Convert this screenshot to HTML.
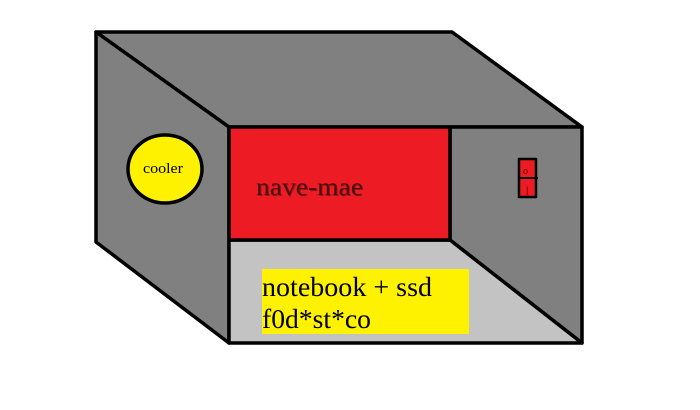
<!DOCTYPE html>
<html><head><meta charset="utf-8"><style>
html,body{margin:0;padding:0;background:#fff;}
svg{display:block;}
.s{font-family:"Liberation Serif","DejaVu Serif",serif;}
</style></head><body>
<svg width="700" height="410" viewBox="0 0 700 410" xmlns="http://www.w3.org/2000/svg">
<g stroke="#000" stroke-width="3.5" stroke-linejoin="round">
<polygon points="96,32 452,32 582,127 229,127" fill="#808080"/>
<polygon points="96,32 229,127 229,343 96,242" fill="#808080"/>
<polygon points="450,127 582,127 582,343 450,240" fill="#808080"/>
<polygon points="229,240 450,240 582,343 229,343" fill="#c3c3c3"/>
<rect x="229" y="127" width="221" height="113" fill="#ed1c24"/>
<ellipse cx="165" cy="169" rx="37" ry="34" fill="#fff200"/>
<rect x="519" y="159" width="17" height="38" fill="#ed1c24" stroke-width="2.5"/>
<line x1="519" y1="178" x2="538" y2="178" stroke-width="2"/>
</g>
<text x="523" y="174" font-family="Liberation Sans,sans-serif" font-size="9" fill="#600">o</text>
<text x="526" y="193" font-family="Liberation Sans,sans-serif" font-size="9" fill="#600">|</text>
<rect x="262" y="269" width="207" height="65" fill="#fff200"/>
<text x="143" y="173" textLength="40" lengthAdjust="spacingAndGlyphs" class="s" font-size="15" fill="#000">cooler</text>
<text x="257" y="196" textLength="107" lengthAdjust="spacingAndGlyphs" class="s" font-size="25" fill="#000" opacity="0.35">nave-mae</text>
<text x="256" y="195" textLength="107" lengthAdjust="spacingAndGlyphs" class="s" font-size="25" fill="#4a1010">nave-mae</text>
<text x="262" y="296" textLength="170" lengthAdjust="spacingAndGlyphs" class="s" font-size="27" fill="#000">notebook + ssd</text>
<text x="262" y="328" textLength="109" lengthAdjust="spacingAndGlyphs" class="s" font-size="27" fill="#000">f0d*st*co</text>
</svg>
</body></html>
